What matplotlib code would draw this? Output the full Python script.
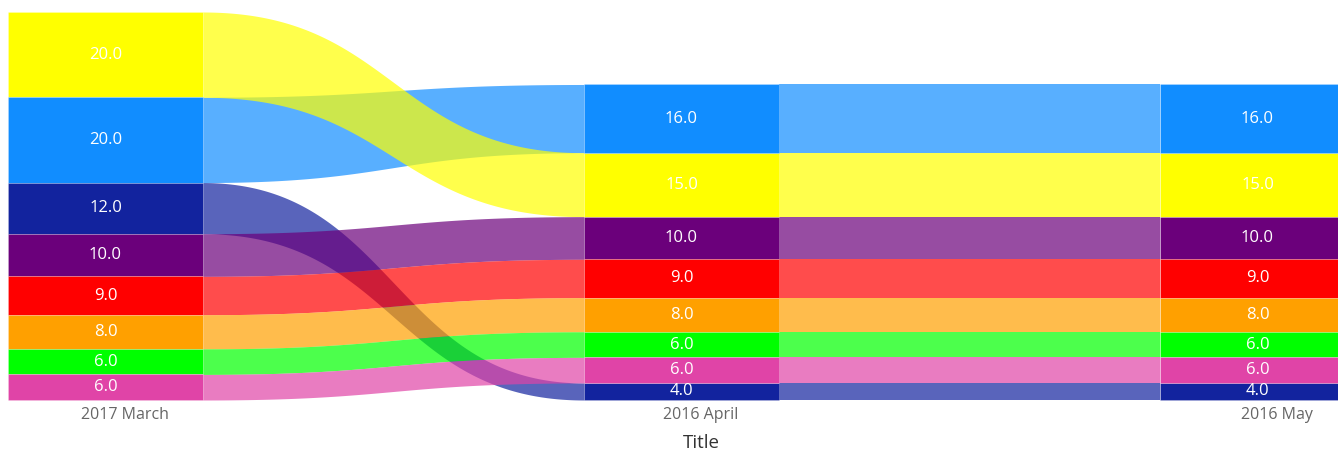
import numpy as np
import matplotlib
matplotlib.use("Agg")
import matplotlib.pyplot as plt
from matplotlib.patches import Rectangle

plt.rcParams['font.family'] = ['Open Sans', 'DejaVu Sans']

periods = ['2017 March', '2016 April', '2016 May']
series = ['S1', 'S2', 'S3', 'S4', 'S5', 'S6', 'S7', 'S8']
colors = ['#FFFF00', '#118DFF', '#12239E', '#6B007B', '#FF0000', '#FFA000', '#00FF00', '#E044A7']
march = [20, 20, 12, 10, 9, 8, 6, 6]
april = [15, 16, 4, 10, 9, 8, 6, 6]
may = [15, 16, 4, 10, 9, 8, 6, 6]
data = [march, april, may]

# ribbon drawing order (later = on top)
draw_order = [1, 2, 0, 3, 4, 5, 6, 7]

fig = plt.figure(figsize=(13.38, 4.5), dpi=100)
ax = fig.add_axes([0, 0, 1, 1])

width = 0.3385
px = 576.0  # pixels per column step

def bounds(vals):
    order = sorted(range(len(vals)), key=lambda i: -vals[i])
    top = sum(vals)
    res = {}
    for i in order:
        res[i] = (top - vals[i], top)
        top -= vals[i]
    return res

stacks = [bounds(v) for v in data]

def bez(a, b, t):
    return (1 - t) ** 3 * a + 3 * (1 - t) ** 2 * t * a + 3 * (1 - t) * t ** 2 * b + t ** 3 * b

t = np.linspace(0, 1, 300)
for c in range(len(periods) - 1):
    x0 = c + width / 2
    x1 = c + 1 - width / 2
    xm = (x0 + x1) / 2
    xs = (1 - t) ** 3 * x0 + 3 * (1 - t) ** 2 * t * xm + 3 * (1 - t) * t ** 2 * xm + t ** 3 * x1
    for i in draw_order:
        b0, t0 = stacks[c][i]
        b1, t1 = stacks[c + 1][i]
        ax.fill_between(xs, bez(b0, b1, t), bez(t0, t1, t), color=colors[i],
                        alpha=0.7, linewidth=0, zorder=1)

for c, vals in enumerate(data):
    for i, v in enumerate(vals):
        b, tp = stacks[c][i]
        ax.add_patch(Rectangle((c - width / 2, b), width, v, facecolor=colors[i],
                               edgecolor=(1, 1, 1, 0.2), linewidth=0.7, zorder=2))
        ax.text(c, (b + tp) / 2, f'{v:.1f}', color='white', fontsize=12,
                ha='center', va='center', zorder=3)

tick_off = 19.5 / px
for c, p in enumerate(periods):
    ax.text(c + tick_off, -3.6, p, color='#666666', fontsize=11.5, ha='center', va='center')
ax.text(1 + tick_off, -10.0, 'Title', color='#333333', fontsize=13.5, ha='center', va='center')

unit = 388 / 91.0
ax.set_xlim(-105.5 / px, (1338 - 105.5) / px)
ax.set_ylim(-50 / unit, 91 + 12 / unit)
ax.axis('off')

fig.savefig('out.png', dpi=100)
